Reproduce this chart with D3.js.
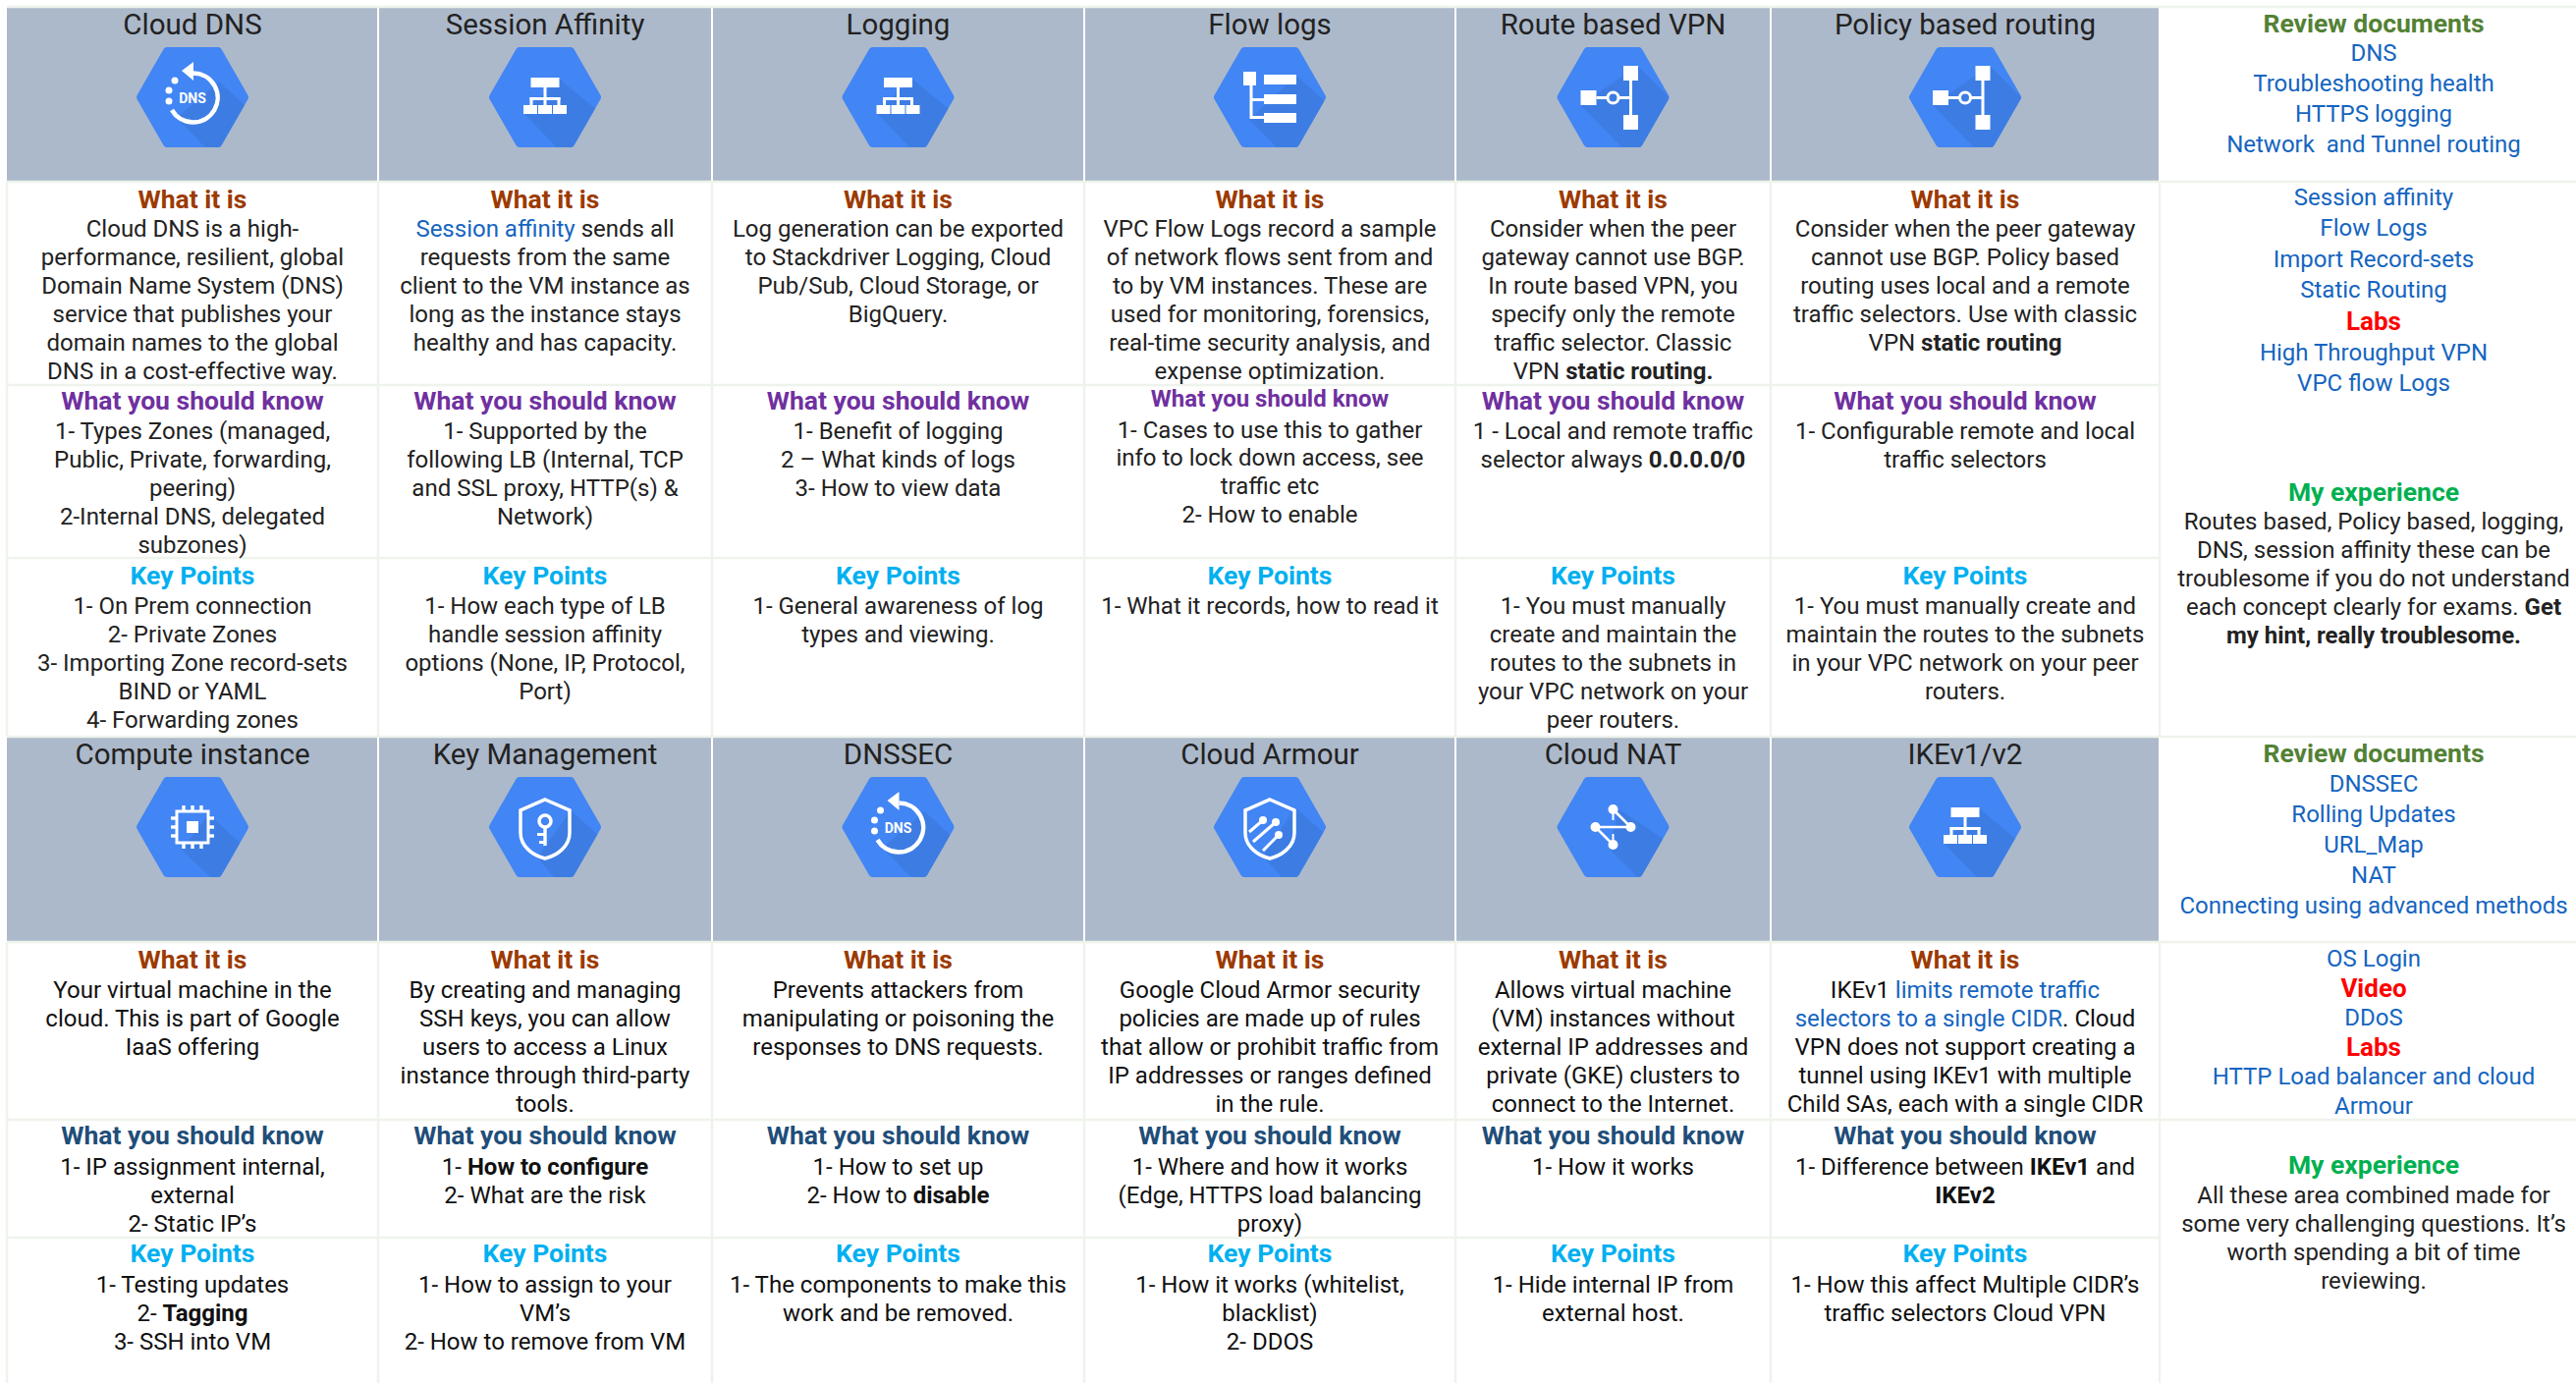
<!DOCTYPE html>
<html>
<head>
<meta charset="utf-8">
<script src="https://cdn.jsdelivr.net/npm/d3@7"></script>
<style>
  html, body { margin: 0; padding: 0; background: #fff; }
  svg { display: block; font-family: Roboto, sans-serif; }
</style>
</head>
<body>
<div id="chart"></div>
<script>
// texts, one array per row. **x** = bold, [x] = link, {x} = red label
const topTitles = ["Cloud DNS", "Session Affinity", "Logging", "Flow logs", "Route based VPN", "Policy based routing"]
const bottomTitles = ["Compute instance", "Key Management", "DNSSEC", "Cloud Armour", "Cloud NAT", "IKEv1/v2"]

const topIcons = ["dns", "tree", "tree", "list", "vpn", "vpn"]
const bottomIcons = ["chip", "key", "dns", "armour", "nat", "tree"]

const topWhat = [
  ["Cloud DNS is a high-", "performance, resilient, global", "Domain Name System (DNS)", "service that publishes your", "domain names to the global", "DNS in a cost-effective way."],
  ["[Session affinity] sends all", "requests from the same", "client to the VM instance as", "long as the instance stays", "healthy and has capacity."],
  ["Log generation can be exported", "to Stackdriver Logging, Cloud", "Pub/Sub, Cloud Storage, or", "BigQuery."],
  ["VPC Flow Logs record a sample", "of network flows sent from and", "to by VM instances. These are", "used for monitoring, forensics,", "real-time security analysis, and", "expense optimization."],
  ["Consider when the peer", "gateway cannot use BGP.", "In route based VPN, you", "specify only the remote", "traffic selector. Classic", "VPN **static routing.**"],
  ["Consider when the peer gateway", "cannot use BGP. Policy based", "routing uses local and a remote", "traffic selectors. Use with classic", "VPN **static routing**"]
]
const topKnow = [
  ["1- Types Zones (managed,", "Public, Private, forwarding,", "peering)", "2-Internal DNS, delegated", "subzones)"],
  ["1- Supported by the", "following LB (Internal, TCP", "and SSL proxy, HTTP(s) &", "Network)"],
  ["1- Benefit of logging", "2 – What kinds of logs", "3- How to view data"],
  ["1- Cases to use this to gather", "info to lock down access, see", "traffic etc", "2- How to enable"],
  ["1 - Local and remote traffic", "selector always **0.0.0.0/0**"],
  ["1- Configurable remote and local", "traffic selectors"]
]
const topKey = [
  ["1- On Prem connection", "2- Private Zones", "3- Importing Zone record-sets", "BIND or YAML", "4- Forwarding zones"],
  ["1- How each type of LB", "handle session affinity", "options (None, IP, Protocol,", "Port)"],
  ["1- General awareness of log", "types and viewing."],
  ["1- What it records, how to read it"],
  ["1- You must manually", "create and maintain the", "routes to the subnets in", "your VPC network on your", "peer routers."],
  ["1- You must manually create and", "maintain the routes to the subnets", "in your VPC network on your peer", "routers."]
]

const bottomWhat = [
  ["Your virtual machine in the", "cloud. This is part of Google", "IaaS offering"],
  ["By creating and managing", "SSH keys, you can allow", "users to access a Linux", "instance through third-party", "tools."],
  ["Prevents attackers from", "manipulating or poisoning the", "responses to DNS requests."],
  ["Google Cloud Armor security", "policies are made up of rules", "that allow or prohibit traffic from", "IP addresses or ranges defined", "in the rule."],
  ["Allows virtual machine", "(VM) instances without", "external IP addresses and", "private (GKE) clusters to", "connect to the Internet."],
  ["IKEv1 [limits remote traffic]", "[selectors to a single CIDR]. Cloud", "VPN does not support creating a", "tunnel using IKEv1 with multiple", "Child SAs, each with a single CIDR"]
]
const bottomKnow = [
  ["1- IP assignment internal,", "external", "2- Static IP’s"],
  ["1- **How to configure**", "2- What are the risk"],
  ["1- How to set up", "2- How to **disable**"],
  ["1- Where and how it works", "(Edge, HTTPS load balancing", "proxy)"],
  ["1- How it works"],
  ["1- Difference between **IKEv1** and", "**IKEv2**"]
]
const bottomKey = [
  ["1- Testing updates", "2- **Tagging**", "3- SSH into VM"],
  ["1- How to assign to your", "VM’s", "2- How to remove from VM"],
  ["1- The components to make this", "work and be removed."],
  ["1- How it works (whitelist,", "blacklist)", "2- DDOS"],
  ["1- Hide internal IP from", "external host."],
  ["1- How this affect Multiple CIDR’s", "traffic selectors Cloud VPN"]
]

const sideReviewTop = ["[DNS]", "[Troubleshooting health]", "[HTTPS logging]", "[Network  and Tunnel routing]"]
const sideLinksTop = ["[Session affinity]", "[Flow Logs]", "[Import Record-sets]", "[Static Routing]", "{Labs}", "[High Throughput VPN]", "[VPC flow Logs]"]
const sideExpTop = ["Routes based, Policy based, logging,", "DNS, session affinity these can be", "troublesome if you do not understand", "each concept clearly for exams. **Get**", "**my hint, really troublesome.**"]
const sideReviewBottom = ["[DNSSEC]", "[Rolling Updates]", "[URL_Map]", "[NAT]", "[Connecting using advanced methods]"]
const sideLinksBottom = ["[OS Login]", "{Video}", "[DDoS]", "{Labs}", "[HTTP Load balancer and cloud]", "[Armour]"]
const sideExpBottom = ["All these area combined made for", "some very challenging questions. It’s", "worth spending a bit of time", "reviewing."]

// ----------------------------------------------------------
const ancho = 2623
const alto = 1408
const colEdges = [7, 385, 725, 1104, 1482, 1803, 2199, 2632]
const colX = d3.scaleOrdinal().domain(d3.range(colEdges.length)).range(colEdges)
const colCenter = i => (colX(i) + colX(i + 1)) / 2
const sideCenter = 2417

const colorLine = "#eef4ec"
const colorHeader = "#acb9ca"
const colorText = "#222222"
const colorLink = "#1565c0"
const colorWhat = "#9c3a00"
const colorKey = "#00b0f0"
const colorPurple = "#7030a0"
const colorNavy = "#1f4e79"
const colorReview = "#538135"
const colorExp = "#00b050"
const bodySize = 24
const headSize = 26.5
const labelSize = 26
const titleSize = 29.5
const lineStep = 28.9

const svg = d3.select("#chart").append("svg").attr("width", ancho).attr("height", alto)
svg.append("rect").attr("width", ancho).attr("height", alto).attr("fill", "#fff")

const defs = svg.append("defs")
const hexInner = "-26,-47 26,-47 53,0 26,47 -26,47 -53,0"
const hexMask = defs.append("mask").attr("id", "hexMask").attr("maskUnits", "userSpaceOnUse")
  .attr("x", -70).attr("y", -70).attr("width", 140).attr("height", 140)
hexMask.append("polygon").attr("points", hexInner).attr("fill", "#fff").attr("stroke", "#fff")
  .attr("stroke-width", 8).attr("stroke-linejoin", "round")

// header bands
function drawHeaders(titles, icons, y0, y1, titleY, hexY) {
  const g = svg.append("g")
  g.selectAll("rect").data(titles).enter().append("rect")
    .attr("x", (d, i) => colX(i) + (i ? 1 : 0))
    .attr("width", (d, i) => colX(i + 1) - colX(i) - (i ? 2 : 1))
    .attr("y", y0).attr("height", y1 - y0).attr("fill", colorHeader)
  g.selectAll("text").data(titles).enter().append("text")
    .attr("x", (d, i) => colCenter(i)).attr("y", titleY)
    .attr("text-anchor", "middle").attr("dominant-baseline", "central")
    .attr("font-size", titleSize).attr("fill", "#222").text(d => d)
  icons.forEach((name, i) => drawIcon(name, colCenter(i), hexY))
}

// grid lines
function hLine(y, x0, x1) {
  svg.append("line").attr("x1", x0).attr("x2", x1).attr("y1", y).attr("y2", y)
    .attr("stroke", colorLine).attr("stroke-width", 2.5)
}
function vLine(x, y0, y1) {
  svg.append("line").attr("x1", x).attr("x2", x).attr("y1", y0).attr("y2", y1)
    .attr("stroke", colorLine).attr("stroke-width", 2.5)
}

// **bold**, [link], {red} -> tspans
function addRichLine(sel, line, base) {
  line.split(/(\*\*.+?\*\*|\[.+?\]|\{.+?\})/).filter(p => p !== "").forEach(p => {
    const t = sel.append("tspan").attr("fill", base).attr("xml:space", "preserve")
    if (p.startsWith("**")) t.attr("font-weight", 700).text(p.slice(2, -2))
    else if (p.startsWith("[")) t.attr("fill", colorLink).text(p.slice(1, -1))
    else if (p.startsWith("{")) t.attr("fill", "#ff0000").attr("font-weight", 700).attr("font-size", labelSize).text(p.slice(1, -1))
    else t.text(p)
  })
}

function drawBlock(x, heading, headColor, headY, lines, firstY, step, opts) {
  opts = opts || {}
  const g = svg.append("g").attr("text-anchor", "middle")
  if (heading) {
    g.append("text").attr("x", x).attr("y", headY).attr("dominant-baseline", "central")
      .attr("font-size", opts.headSize || headSize).attr("font-weight", 700).attr("fill", headColor).text(heading)
  }
  g.selectAll("text.line").data(lines).enter().append("text").attr("class", "line")
    .attr("x", x).attr("y", (d, i) => firstY + i * step)
    .attr("dominant-baseline", "central").attr("font-size", bodySize)
    .each(function(d) { addRichLine(d3.select(this), d, opts.color || colorText) })
}

function drawRow(rows, heading, headColor, headY, firstY, color, override) {
  rows.forEach((lines, i) => {
    const o = override && override[i]
    drawBlock(colCenter(i), heading, headColor, headY + (o ? o.dy : 0), lines, firstY + (o ? o.dy : 0), lineStep,
      { color: color, headSize: o ? o.headSize : null })
  })
}

// icon glyphs, local coords around the hexagon centre
const shadows = {
  dns: [[27, -16], [54, 9], [12, 50], [-16, 21]],
  tree: [[14, -19], [54, 14], [12, 51], [-22, 16]],
  list: [[27, -22], [55, 3], [7, 51], [-21, 23]],
  vpn: [[25, -32], [57, 0], [9, 51], [-33, 8]],
  chip: [[17, -13], [49, 17], [19, 52], [-11, 23]],
  key: [[26, -17], [54, 8], [10, 52], [-8, 31]],
  armour: [[26, -20], [56, 7], [13, 52], [-7, 30]],
  nat: [[6, -18], [57, 16], [26, 52], [-4, 22]]
}

function drawIcon(name, cx, cy) {
  const g = svg.append("g").attr("transform", `translate(${cx},${cy})`)
  g.append("polygon").attr("points", hexInner).attr("fill", "#4285f4").attr("stroke", "#4285f4")
    .attr("stroke-width", 8).attr("stroke-linejoin", "round")
  const s = shadows[name]
  g.append("polygon").attr("mask", "url(#hexMask)").attr("fill", "#3d7de3")
    .attr("points", [s[0], s[1], [62, 62], s[2], s[3]].map(p => p.join(",")).join(" "))
  const rect = (x, y, w, h) => g.append("rect").attr("x", x).attr("y", y).attr("width", w).attr("height", h).attr("fill", "#fff")
  const dot = (x, y, r) => g.append("circle").attr("cx", x).attr("cy", y).attr("r", r).attr("fill", "#fff")
  const stroke = (d, w) => g.append("path").attr("d", d).attr("fill", "none").attr("stroke", "#fff").attr("stroke-width", w)

  if (name === "dns") {
    stroke("M1,-24.5 A25,25 0 1 1 -21,13", 4.5)
    g.append("path").attr("d", "M-11,-27 L1,-36 L1,-17 Z").attr("fill", "#fff")
    dot(-18, -17, 3.5); dot(-24, -7, 3.5); dot(-24, 4, 3.5)
    g.append("text").attr("x", 0).attr("y", 1).attr("text-anchor", "middle").attr("dominant-baseline", "central")
      .attr("font-size", 14).attr("font-weight", 700).attr("fill", "#fff").text("DNS")
  } else if (name === "tree") {
    rect(-14.5, -20, 29, 10)
    rect(-1.5, -10, 3, 11); rect(-15.5, 0, 31, 3)
    rect(-15.5, 0, 3, 9); rect(-1.5, 0, 3, 9); rect(12.5, 0, 3, 9)
    rect(-22, 8, 14, 9); rect(-7, 8, 14, 9); rect(8, 8, 14, 9)
  } else if (name === "list") {
    rect(-27, -26, 13, 14)
    rect(-6, -23, 33, 10); rect(-6, -3, 33, 10); rect(-6, 16, 33, 10)
    rect(-20.5, -12, 3, 34); rect(-20, 1, 14, 3); rect(-20, 19, 14, 3)
  } else if (name === "vpn") {
    rect(-33, -7, 16, 15); rect(10.5, -32, 15, 15); rect(10.5, 18, 15, 15)
    rect(16.5, -17, 3, 35); rect(-17, -1, 11, 3); rect(6, -1, 11, 3)
    g.append("circle").attr("cx", 0).attr("cy", 0.5).attr("r", 5.5).attr("fill", "none").attr("stroke", "#fff").attr("stroke-width", 3)
  } else if (name === "chip") {
    g.append("rect").attr("x", -16).attr("y", -16).attr("width", 32).attr("height", 32).attr("fill", "none").attr("stroke", "#fff").attr("stroke-width", 3)
    rect(-6, -6, 12, 12)
    ;[-9, 0, 9].forEach(p => {
      rect(p - 1.7, -22, 3.4, 6); rect(p - 1.7, 16, 3.4, 6)
      rect(-22, p - 1.7, 6, 3.4); rect(16, p - 1.7, 6, 3.4)
    })
  } else if (name === "key" || name === "armour") {
    stroke("M0,-28 L25,-17 V6 C25,20 12,29 0,32 C-12,29 -25,20 -25,6 V-17 Z", 3.5)
    if (name === "key") {
      g.append("circle").attr("cx", 0).attr("cy", -6).attr("r", 6).attr("fill", "none").attr("stroke", "#fff").attr("stroke-width", 3.5)
      rect(-1.7, 0, 3.4, 19); rect(-8, 6, 7, 3); rect(-6, 14, 5, 3)
    } else {
      stroke("M-21,5 L-7,-7", 3); stroke("M-17,15 L6,-5", 3); stroke("M-7,24 L9,8", 3)
      dot(-7, -7, 4); dot(6, -5, 4); dot(9, 8, 4)
    }
  } else if (name === "nat") {
    stroke("M0,-18 L18,0 L-18,0 L0,18", 2.5)
    stroke("M0,-15 V-7 M0,7 V15", 2)
    dot(0, -18, 5); dot(18, 0, 5); dot(-18, 0, 5); dot(0, 18, 5)
  }
}

drawHeaders(topTitles, topIcons, 8, 185, 24.5, 99)
drawHeaders(bottomTitles, bottomIcons, 751, 959, 767.5, 842)

// white gap lines inside the header bands are the gaps between the rects
hLine(7, 7, ancho)
;[185, 392, 568, 750, 959, 1140, 1260].forEach(y => hLine(y, 7, 2199))
;[185, 750, 959, 1140].forEach(y => hLine(y, 2199, ancho))
colEdges.slice(0, 7).forEach(x => {
  vLine(x, 185, 750)
  vLine(x, 959, alto)
})

drawRow(topWhat, "What it is", colorWhat, 202, 233, colorText)
drawRow(topKnow, "What you should know", colorPurple, 407.5, 439, colorText, { 3: { dy: -1.5, headSize: 24 } })
drawRow(topKey, "Key Points", colorKey, 585, 617, colorText)
drawRow(bottomWhat, "What it is", colorWhat, 976, 1008, "#111")
drawRow(bottomKnow, "What you should know", colorNavy, 1155, 1188, "#111")
drawRow(bottomKey, "Key Points", colorKey, 1275, 1308, "#111")

drawBlock(sideCenter, "Review documents", colorReview, 23, sideReviewTop, 53.5, 31)
drawBlock(sideCenter, null, null, 0, sideLinksTop, 200.5, 31.6)
drawBlock(sideCenter, "My experience", colorExp, 500, sideExpTop, 531, 29)
drawBlock(sideCenter, "Review documents", colorReview, 766.5, sideReviewBottom, 798, 31)
drawBlock(sideCenter, null, null, 0, sideLinksBottom, 976, 30)
drawBlock(sideCenter, "My experience", colorExp, 1185, sideExpBottom, 1217, 29)
</script>
</body>
</html>
